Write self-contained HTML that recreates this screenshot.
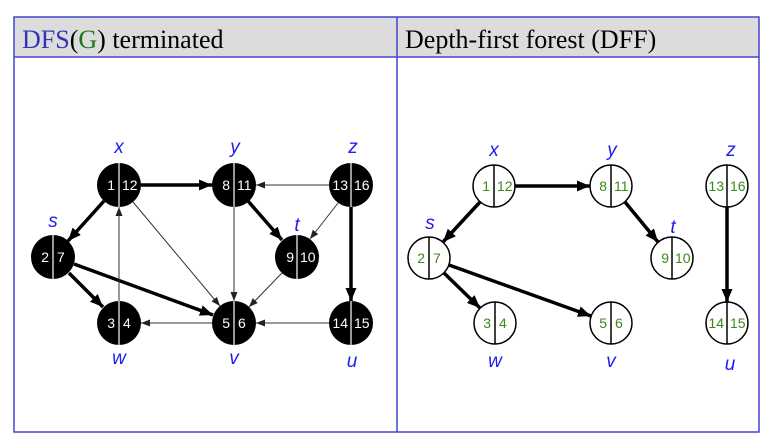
<!DOCTYPE html>
<html><head><meta charset="utf-8"><style>
body{margin:0;background:#fff;width:776px;height:448px;overflow:hidden}
svg{display:block}
.lb{font-family:"Liberation Sans",sans-serif;font-style:italic;font-size:19px;fill:#2020ee;text-anchor:middle}
.nl{font-family:"Liberation Sans",sans-serif;font-size:14px;fill:#fff}
.ng{font-family:"Liberation Sans",sans-serif;font-size:14px;fill:#3a8a1a}
.hd{font-family:"Liberation Serif",serif;font-size:26px}
</style></head><body>
<svg width="776" height="448" viewBox="0 0 776 448">
<defs>
<marker id="ak" markerUnits="userSpaceOnUse" markerWidth="14" markerHeight="12" refX="13" refY="5.5" orient="auto"><path d="M0,0 L13,5.5 L0,11 z" fill="#000"/></marker>
<marker id="an" markerUnits="userSpaceOnUse" markerWidth="10" markerHeight="8" refX="9" refY="3.5" orient="auto"><path d="M0,0 L9,3.5 L0,7 z" fill="#222"/></marker>
</defs>
<rect x="14" y="17" width="745" height="40" fill="#dcdcdc"/>
<rect x="14" y="17" width="745" height="415" fill="none" stroke="#4444cc" stroke-width="1.5"/>
<line x1="14" y1="57" x2="759" y2="57" stroke="#4444cc" stroke-width="1.5"/>
<line x1="397" y1="17" x2="397" y2="432" stroke="#4444cc" stroke-width="1.5"/>
<text class="hd" x="22" y="48"><tspan fill="#3333bb">DFS</tspan><tspan>(</tspan><tspan fill="#1a7a1a">G</tspan><tspan>) terminated</tspan></text>
<text class="hd" x="405" y="48">Depth-first forest (DFF)</text>

<g stroke="#000" stroke-width="3.5" fill="none" marker-end="url(#ak)">
<line x1="141" y1="185" x2="212" y2="185"/>
<line x1="104" y1="201" x2="68" y2="241"/>
<line x1="69" y1="273" x2="103" y2="307"/>
<line x1="74" y1="264" x2="213" y2="315"/>
<line x1="248" y1="201" x2="282" y2="240"/>
<line x1="351" y1="207" x2="351" y2="301"/>
</g>
<g stroke="#333" stroke-width="1" fill="none" marker-end="url(#an)">
<line x1="133" y1="202" x2="220" y2="306"/>
<line x1="119" y1="301" x2="119" y2="207"/>
<line x1="234" y1="207" x2="234" y2="301"/>
<line x1="329" y1="185" x2="256" y2="185"/>
<line x1="338" y1="203" x2="310" y2="239"/>
<line x1="282" y1="273" x2="249" y2="307"/>
<line x1="212" y1="323" x2="141" y2="323"/>
<line x1="329" y1="323" x2="256" y2="323"/>
</g>
<g>
<circle cx="119" cy="185" r="22"/><circle cx="234" cy="185" r="22"/><circle cx="351" cy="185" r="22"/>
<circle cx="53" cy="257" r="22"/><circle cx="297" cy="257" r="22"/>
<circle cx="119" cy="323" r="22"/><circle cx="234" cy="323" r="22"/><circle cx="351" cy="323" r="22"/>
</g>
<g stroke="#ccc" stroke-width="1.5">
<line x1="119" y1="163" x2="119" y2="207"/><line x1="234" y1="163" x2="234" y2="207"/><line x1="351" y1="163" x2="351" y2="207"/>
<line x1="53" y1="235" x2="53" y2="279"/><line x1="297" y1="235" x2="297" y2="279"/>
<line x1="119" y1="301" x2="119" y2="345"/><line x1="234" y1="301" x2="234" y2="345"/><line x1="351" y1="301" x2="351" y2="345"/>
</g>
<g class="nl">
<text x="115" y="190" text-anchor="end">1</text><text x="122" y="190">12</text>
<text x="230" y="190" text-anchor="end">8</text><text x="237" y="190">11</text>
<text x="348" y="190" text-anchor="end">13</text><text x="354" y="190">16</text>
<text x="49" y="262" text-anchor="end">2</text><text x="57" y="262">7</text>
<text x="294" y="262" text-anchor="end">9</text><text x="300" y="262">10</text>
<text x="115" y="328" text-anchor="end">3</text><text x="123" y="328">4</text>
<text x="230" y="328" text-anchor="end">5</text><text x="238" y="328">6</text>
<text x="348" y="328" text-anchor="end">14</text><text x="354" y="328">15</text>
</g>
<g class="lb">
<text x="119" y="153">x</text><text x="235" y="153">y</text><text x="353" y="153">z</text>
<text x="53" y="227">s</text><text x="297" y="231">t</text>
<text x="119" y="364">w</text><text x="234" y="364">v</text><text x="352" y="367">u</text>
</g>

<g stroke="#000" stroke-width="3.5" fill="none" marker-end="url(#ak)">
<line x1="515" y1="186" x2="590" y2="186"/>
<line x1="480" y1="202" x2="443" y2="242"/>
<line x1="444" y1="273" x2="480" y2="308"/>
<line x1="449" y1="265" x2="591" y2="316"/>
<line x1="625" y1="202" x2="658" y2="242"/>
<line x1="727" y1="207" x2="727" y2="302"/>
</g>
<g fill="#fff" stroke="#000" stroke-width="1.5">
<circle cx="494" cy="186" r="21"/><circle cx="611" cy="186" r="21"/><circle cx="727" cy="186" r="21"/>
<circle cx="429" cy="258" r="21"/><circle cx="672" cy="258" r="21"/>
<circle cx="495" cy="323" r="21"/><circle cx="611" cy="323" r="21"/><circle cx="727" cy="323" r="21"/>
<line x1="494" y1="165" x2="494" y2="207"/><line x1="611" y1="165" x2="611" y2="207"/><line x1="727" y1="165" x2="727" y2="207"/>
<line x1="429" y1="237" x2="429" y2="279"/><line x1="672" y1="237" x2="672" y2="279"/>
<line x1="495" y1="302" x2="495" y2="344"/><line x1="611" y1="302" x2="611" y2="344"/><line x1="727" y1="302" x2="727" y2="344"/>
</g>
<g class="ng">
<text x="490" y="191" text-anchor="end">1</text><text x="497" y="191">12</text>
<text x="607" y="191" text-anchor="end">8</text><text x="614" y="191">11</text>
<text x="724" y="191" text-anchor="end">13</text><text x="730" y="191">16</text>
<text x="425" y="263" text-anchor="end">2</text><text x="433" y="263">7</text>
<text x="669" y="263" text-anchor="end">9</text><text x="675" y="263">10</text>
<text x="491" y="328" text-anchor="end">3</text><text x="499" y="328">4</text>
<text x="607" y="328" text-anchor="end">5</text><text x="615" y="328">6</text>
<text x="724" y="328" text-anchor="end">14</text><text x="730" y="328">15</text>
</g>
<g class="lb">
<text x="494" y="156">x</text><text x="612" y="156">y</text><text x="731" y="156">z</text>
<text x="430" y="229">s</text><text x="673" y="233">t</text>
<text x="495" y="367">w</text><text x="611" y="367">v</text><text x="730" y="370">u</text>
</g>
</svg>
</body></html>
